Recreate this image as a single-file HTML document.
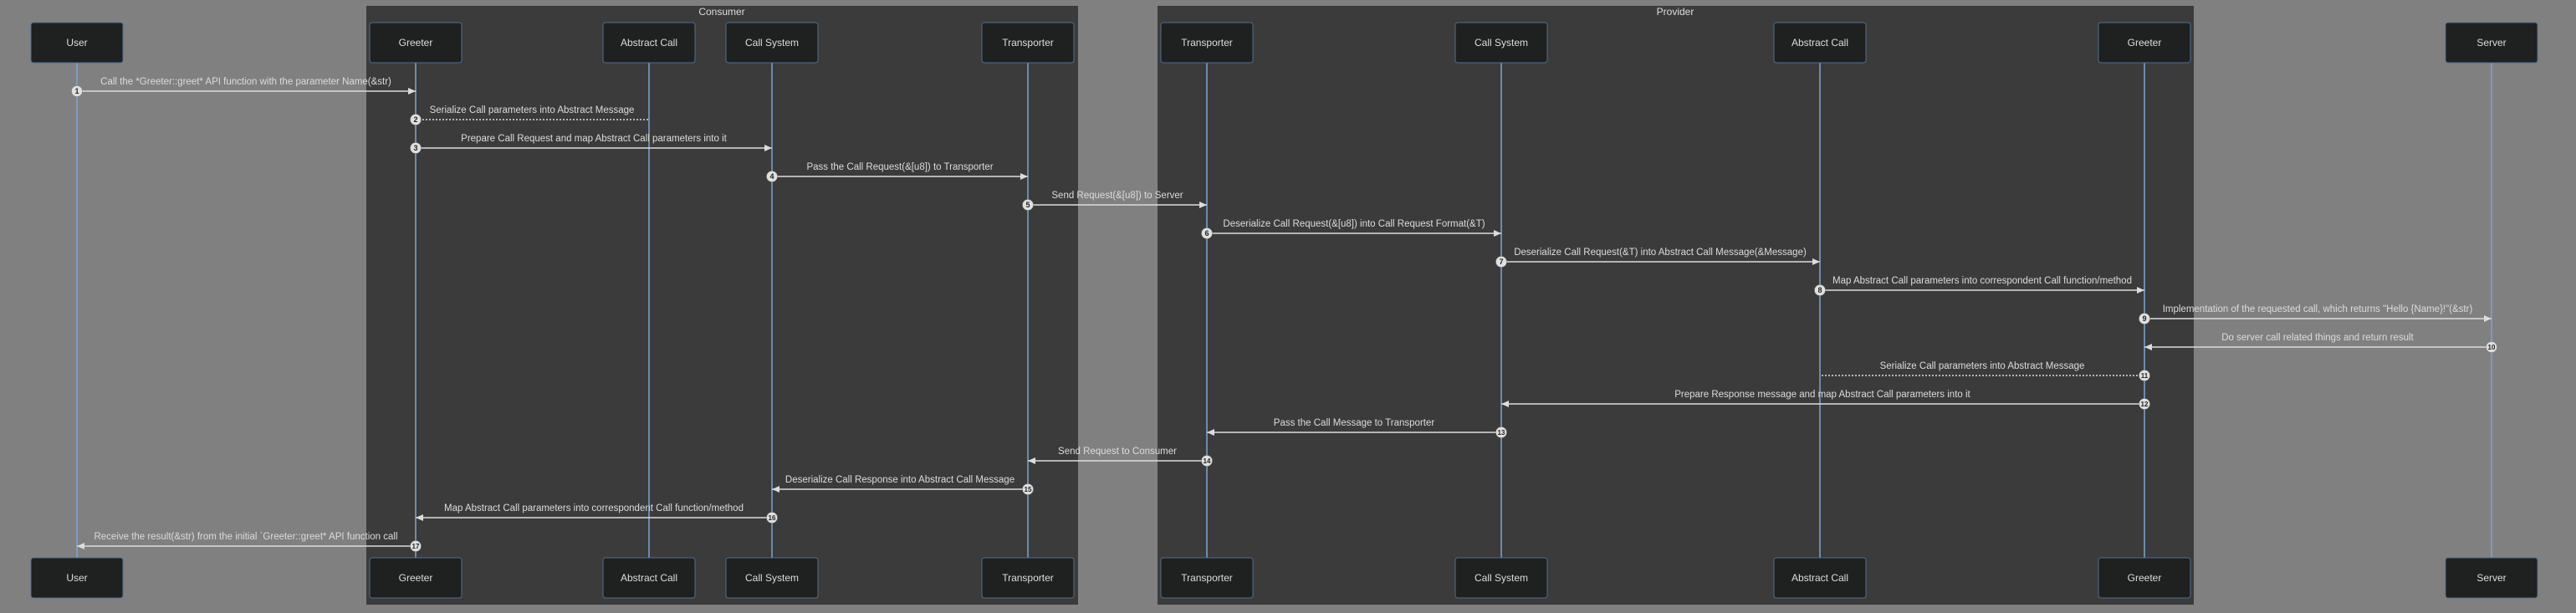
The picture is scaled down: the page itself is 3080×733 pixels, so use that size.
<!DOCTYPE html>
<html><head><meta charset="utf-8"><style>
html,body{margin:0;padding:0;background:#808080;}
svg{display:block;font-family:"Liberation Sans",Arial,sans-serif;}
</style></head><body>
<svg width="3080" height="733" viewBox="0 0 3080 733" xmlns="http://www.w3.org/2000/svg">
<defs>
<marker id="ah" markerWidth="10" markerHeight="10" refX="9" refY="5" orient="auto" markerUnits="userSpaceOnUse">
<path d="M0,1 L9,5 L0,9 Z" fill="#dcdcdc"/></marker>
</defs>
<rect width="3080" height="733" fill="#808080"/>
<rect x="438" y="7" width="851" height="716" fill="#3b3b3b"/>
<rect x="1384" y="7" width="1239" height="716" fill="#3b3b3b"/>
<text x="863" y="18" font-size="12" fill="#ddd" text-anchor="middle">Consumer</text>
<text x="2003" y="18" font-size="12" fill="#ddd" text-anchor="middle">Provider</text>
<g stroke="#7aa6d6" stroke-width="1.5">
<line x1="92" y1="75" x2="92" y2="667"/>
<line x1="497" y1="75" x2="497" y2="667"/>
<line x1="776" y1="75" x2="776" y2="667"/>
<line x1="923" y1="75" x2="923" y2="667"/>
<line x1="1229" y1="75" x2="1229" y2="667"/>
<line x1="1443" y1="75" x2="1443" y2="667"/>
<line x1="1795" y1="75" x2="1795" y2="667"/>
<line x1="2176" y1="75" x2="2176" y2="667"/>
<line x1="2564" y1="75" x2="2564" y2="667"/>
<line x1="2979" y1="75" x2="2979" y2="667"/>
</g>
<g font-size="12" fill="#ddd" text-anchor="middle">
<g id="boxes">
<rect x="37" y="27" width="110" height="48" rx="3" fill="#1f2020" stroke="#4f6f90"/><text x="92" y="55">User</text>
<rect x="442" y="27" width="110" height="48" rx="3" fill="#1f2020" stroke="#4f6f90"/><text x="497" y="55">Greeter</text>
<rect x="721" y="27" width="110" height="48" rx="3" fill="#1f2020" stroke="#4f6f90"/><text x="776" y="55">Abstract Call</text>
<rect x="868" y="27" width="110" height="48" rx="3" fill="#1f2020" stroke="#4f6f90"/><text x="923" y="55">Call System</text>
<rect x="1174" y="27" width="110" height="48" rx="3" fill="#1f2020" stroke="#4f6f90"/><text x="1229" y="55">Transporter</text>
<rect x="1388" y="27" width="110" height="48" rx="3" fill="#1f2020" stroke="#4f6f90"/><text x="1443" y="55">Transporter</text>
<rect x="1740" y="27" width="110" height="48" rx="3" fill="#1f2020" stroke="#4f6f90"/><text x="1795" y="55">Call System</text>
<rect x="2121" y="27" width="110" height="48" rx="3" fill="#1f2020" stroke="#4f6f90"/><text x="2176" y="55">Abstract Call</text>
<rect x="2509" y="27" width="110" height="48" rx="3" fill="#1f2020" stroke="#4f6f90"/><text x="2564" y="55">Greeter</text>
<rect x="2924" y="27" width="110" height="48" rx="3" fill="#1f2020" stroke="#4f6f90"/><text x="2979" y="55">Server</text>
</g>
<use href="#boxes" y="640"/>
</g>
<g stroke="#dcdcdc" stroke-width="1.5" fill="none">
<line x1="92" y1="109" x2="497" y2="109" marker-end="url(#ah)"/>
<line x1="497" y1="143" x2="776" y2="143" stroke-dasharray="2,2"/>
<line x1="497" y1="177" x2="923" y2="177" marker-end="url(#ah)"/>
<line x1="923" y1="211" x2="1229" y2="211" marker-end="url(#ah)"/>
<line x1="1229" y1="245" x2="1443" y2="245" marker-end="url(#ah)"/>
<line x1="1443" y1="279" x2="1795" y2="279" marker-end="url(#ah)"/>
<line x1="1795" y1="313" x2="2176" y2="313" marker-end="url(#ah)"/>
<line x1="2176" y1="347" x2="2564" y2="347" marker-end="url(#ah)"/>
<line x1="2564" y1="381" x2="2979" y2="381" marker-end="url(#ah)"/>
<line x1="2979" y1="415" x2="2564" y2="415" marker-end="url(#ah)"/>
<line x1="2564" y1="449" x2="2176" y2="449" stroke-dasharray="2,2"/>
<line x1="2564" y1="483" x2="1795" y2="483" marker-end="url(#ah)"/>
<line x1="1795" y1="517" x2="1443" y2="517" marker-end="url(#ah)"/>
<line x1="1443" y1="551" x2="1229" y2="551" marker-end="url(#ah)"/>
<line x1="1229" y1="585" x2="923" y2="585" marker-end="url(#ah)"/>
<line x1="923" y1="619" x2="497" y2="619" marker-end="url(#ah)"/>
<line x1="497" y1="653" x2="92" y2="653" marker-end="url(#ah)"/>
</g>
<g font-size="11.5" fill="#dcdcdc" text-anchor="middle">
<text x="294" y="101">Call the *Greeter::greet* API function with the parameter Name(&amp;str)</text>
<text x="636" y="135">Serialize Call parameters into Abstract Message</text>
<text x="710" y="169">Prepare Call Request and map Abstract Call parameters into it</text>
<text x="1076" y="203">Pass the Call Request(&amp;[u8]) to Transporter</text>
<text x="1336" y="237">Send Request(&amp;[u8]) to Server</text>
<text x="1619" y="271">Deserialize Call Request(&amp;[u8]) into Call Request Format(&amp;T)</text>
<text x="1985" y="305">Deserialize Call Request(&amp;T) into Abstract Call Message(&amp;Message)</text>
<text x="2370" y="339">Map Abstract Call parameters into correspondent Call function/method</text>
<text x="2771" y="373">Implementation of the requested call, which returns "Hello {Name}!"(&amp;str)</text>
<text x="2771" y="407">Do server call related things and return result</text>
<text x="2370" y="441">Serialize Call parameters into Abstract Message</text>
<text x="2179" y="475">Prepare Response message and map Abstract Call parameters into it</text>
<text x="1619" y="509">Pass the Call Message to Transporter</text>
<text x="1336" y="543">Send Request to Consumer</text>
<text x="1076" y="577">Deserialize Call Response into Abstract Call Message</text>
<text x="710" y="611">Map Abstract Call parameters into correspondent Call function/method</text>
<text x="294" y="645">Receive the result(&amp;str) from the initial `Greeter::greet* API function call</text>
</g>
<g font-size="9" font-weight="bold" fill="#222" text-anchor="middle">
<g fill="#e0e0e0" stroke="#888" stroke-width="0.5">
<circle cx="92" cy="109" r="6.5"/><circle cx="497" cy="143" r="6.5"/><circle cx="497" cy="177" r="6.5"/>
<circle cx="923" cy="211" r="6.5"/><circle cx="1229" cy="245" r="6.5"/><circle cx="1443" cy="279" r="6.5"/>
<circle cx="1795" cy="313" r="6.5"/><circle cx="2176" cy="347" r="6.5"/><circle cx="2564" cy="381" r="6.5"/>
<circle cx="2979" cy="415" r="6.5"/><circle cx="2564" cy="449" r="6.5"/><circle cx="2564" cy="483" r="6.5"/>
<circle cx="1795" cy="517" r="6.5"/><circle cx="1443" cy="551" r="6.5"/><circle cx="1229" cy="585" r="6.5"/>
<circle cx="923" cy="619" r="6.5"/><circle cx="497" cy="653" r="6.5"/>
</g>
<text x="92" y="112">1</text><text x="497" y="146">2</text><text x="497" y="180">3</text>
<text x="923" y="214">4</text><text x="1229" y="248">5</text><text x="1443" y="282">6</text>
<text x="1795" y="316">7</text><text x="2176" y="350">8</text><text x="2564" y="384">9</text>
<text x="2979" y="418" font-size="8">10</text><text x="2564" y="452" font-size="8">11</text><text x="2564" y="486" font-size="8">12</text>
<text x="1795" y="520" font-size="8">13</text><text x="1443" y="554" font-size="8">14</text><text x="1229" y="588" font-size="8">15</text>
<text x="923" y="622" font-size="8">16</text><text x="497" y="656" font-size="8">17</text>
</g>
</svg>
</body></html>
